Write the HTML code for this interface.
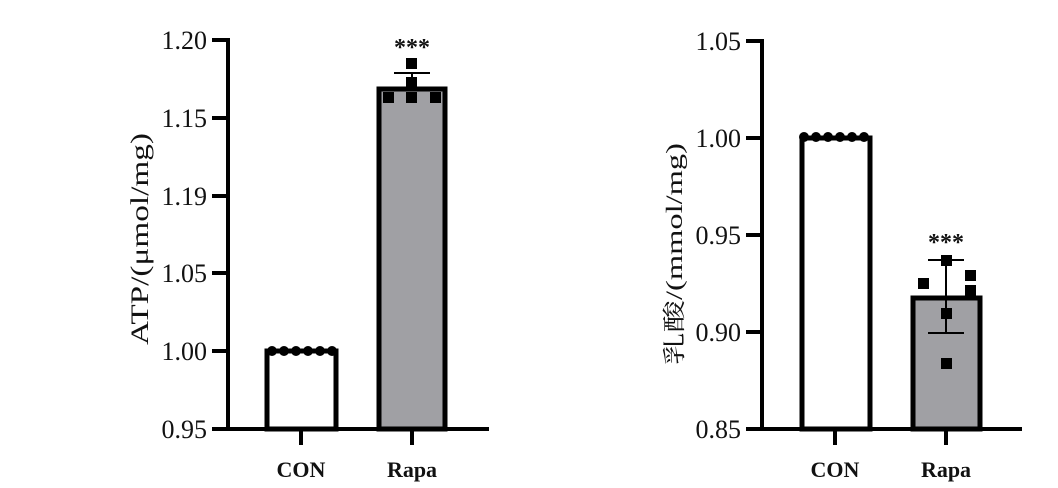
<!DOCTYPE html>
<html><head><meta charset="utf-8"><style>
html,body{margin:0;padding:0;background:#fff;width:1058px;height:488px;overflow:hidden}
text{font-family:"Liberation Serif","Noto Serif CJK SC",serif;fill:#111}
</style></head><body>
<svg width="1058" height="488" viewBox="0 0 1058 488" xmlns="http://www.w3.org/2000/svg">
<!-- LEFT CHART -->
<g stroke="#000" stroke-width="4" fill="none">
<line x1="228" y1="38" x2="228" y2="431"/>
<line x1="226" y1="429" x2="489" y2="429"/>
<line x1="212" y1="40" x2="228" y2="40"/>
<line x1="212" y1="118" x2="228" y2="118"/>
<line x1="212" y1="196" x2="228" y2="196"/>
<line x1="212" y1="273" x2="228" y2="273"/>
<line x1="212" y1="351" x2="228" y2="351"/>
<line x1="212" y1="429" x2="228" y2="429"/>
<line x1="301" y1="429" x2="301" y2="445"/>
<line x1="412" y1="429" x2="412" y2="445"/>
</g>
<rect x="267" y="351" width="69" height="78" fill="#fff" stroke="#000" stroke-width="5"/>
<rect x="379" y="89" width="66" height="340" fill="#a0a0a4" stroke="#000" stroke-width="5"/>
<g fill="#000"><circle cx="272" cy="351" r="5"/><circle cx="284" cy="351" r="5"/><circle cx="296" cy="351" r="5"/><circle cx="308" cy="351" r="5"/><circle cx="320" cy="351" r="5"/><circle cx="332" cy="351" r="5"/></g>
<g stroke="#000" stroke-width="2"><line x1="394" y1="73" x2="430" y2="73"/><line x1="412" y1="73" x2="412" y2="89"/></g>
<g fill="#000"><rect x="406" y="58" width="11" height="11"/><rect x="406" y="77" width="11" height="11"/><rect x="383" y="92" width="11" height="11"/><rect x="406" y="92" width="11" height="11"/><rect x="430" y="92" width="11" height="11"/></g>
<text x="412" y="55" font-size="24" text-anchor="middle" font-weight="bold">***</text>
<g font-size="26" text-anchor="end">
<text x="207" y="49">1.20</text><text x="207" y="127">1.15</text><text x="207" y="205">1.19</text><text x="207" y="282">1.05</text><text x="207" y="360">1.00</text><text x="207" y="438">0.95</text>
</g>
<g font-size="22" font-weight="bold" text-anchor="middle"><text x="301" y="477">CON</text><text x="412" y="477">Rapa</text></g>
<text transform="translate(148,239) rotate(-90)" font-size="25" text-anchor="middle" textLength="212" lengthAdjust="spacingAndGlyphs">ATP/(μmol/mg)</text>

<!-- RIGHT CHART -->
<g stroke="#000" stroke-width="4" fill="none">
<line x1="762" y1="39" x2="762" y2="431"/>
<line x1="760" y1="429" x2="1022" y2="429"/>
<line x1="746" y1="41" x2="762" y2="41"/>
<line x1="746" y1="138" x2="762" y2="138"/>
<line x1="746" y1="235" x2="762" y2="235"/>
<line x1="746" y1="332" x2="762" y2="332"/>
<line x1="746" y1="429" x2="762" y2="429"/>
<line x1="835" y1="429" x2="835" y2="445"/>
<line x1="946" y1="429" x2="946" y2="445"/>
</g>
<rect x="802" y="138" width="68" height="291" fill="#fff" stroke="#000" stroke-width="5"/>
<rect x="913" y="298" width="67" height="131" fill="#a0a0a4" stroke="#000" stroke-width="5"/>
<g fill="#000"><circle cx="804" cy="137" r="5"/><circle cx="816" cy="137" r="5"/><circle cx="828" cy="137" r="5"/><circle cx="840" cy="137" r="5"/><circle cx="852" cy="137" r="5"/><circle cx="864" cy="137" r="5"/></g>
<g stroke="#000" stroke-width="2"><line x1="928" y1="260" x2="964" y2="260"/><line x1="946" y1="260" x2="946" y2="333"/><line x1="928" y1="333" x2="964" y2="333"/></g>
<g fill="#000"><rect x="941" y="255" width="11" height="11"/><rect x="918" y="278" width="11" height="11"/><rect x="965" y="270" width="11" height="11"/><rect x="965" y="285" width="11" height="11"/><rect x="941" y="308" width="11" height="11"/><rect x="941" y="358" width="11" height="11"/></g>
<text x="946" y="250" font-size="24" text-anchor="middle" font-weight="bold">***</text>
<g font-size="26" text-anchor="end">
<text x="741" y="50">1.05</text><text x="741" y="147">1.00</text><text x="741" y="244">0.95</text><text x="741" y="341">0.90</text><text x="741" y="438">0.85</text>
</g>
<g font-size="22" font-weight="bold" text-anchor="middle"><text x="835" y="477">CON</text><text x="946" y="477">Rapa</text></g>
<text transform="translate(682,254) rotate(-90)" font-size="23" text-anchor="middle" textLength="222" lengthAdjust="spacingAndGlyphs">乳酸/(mmol/mg)</text>
</svg>
</body></html>
